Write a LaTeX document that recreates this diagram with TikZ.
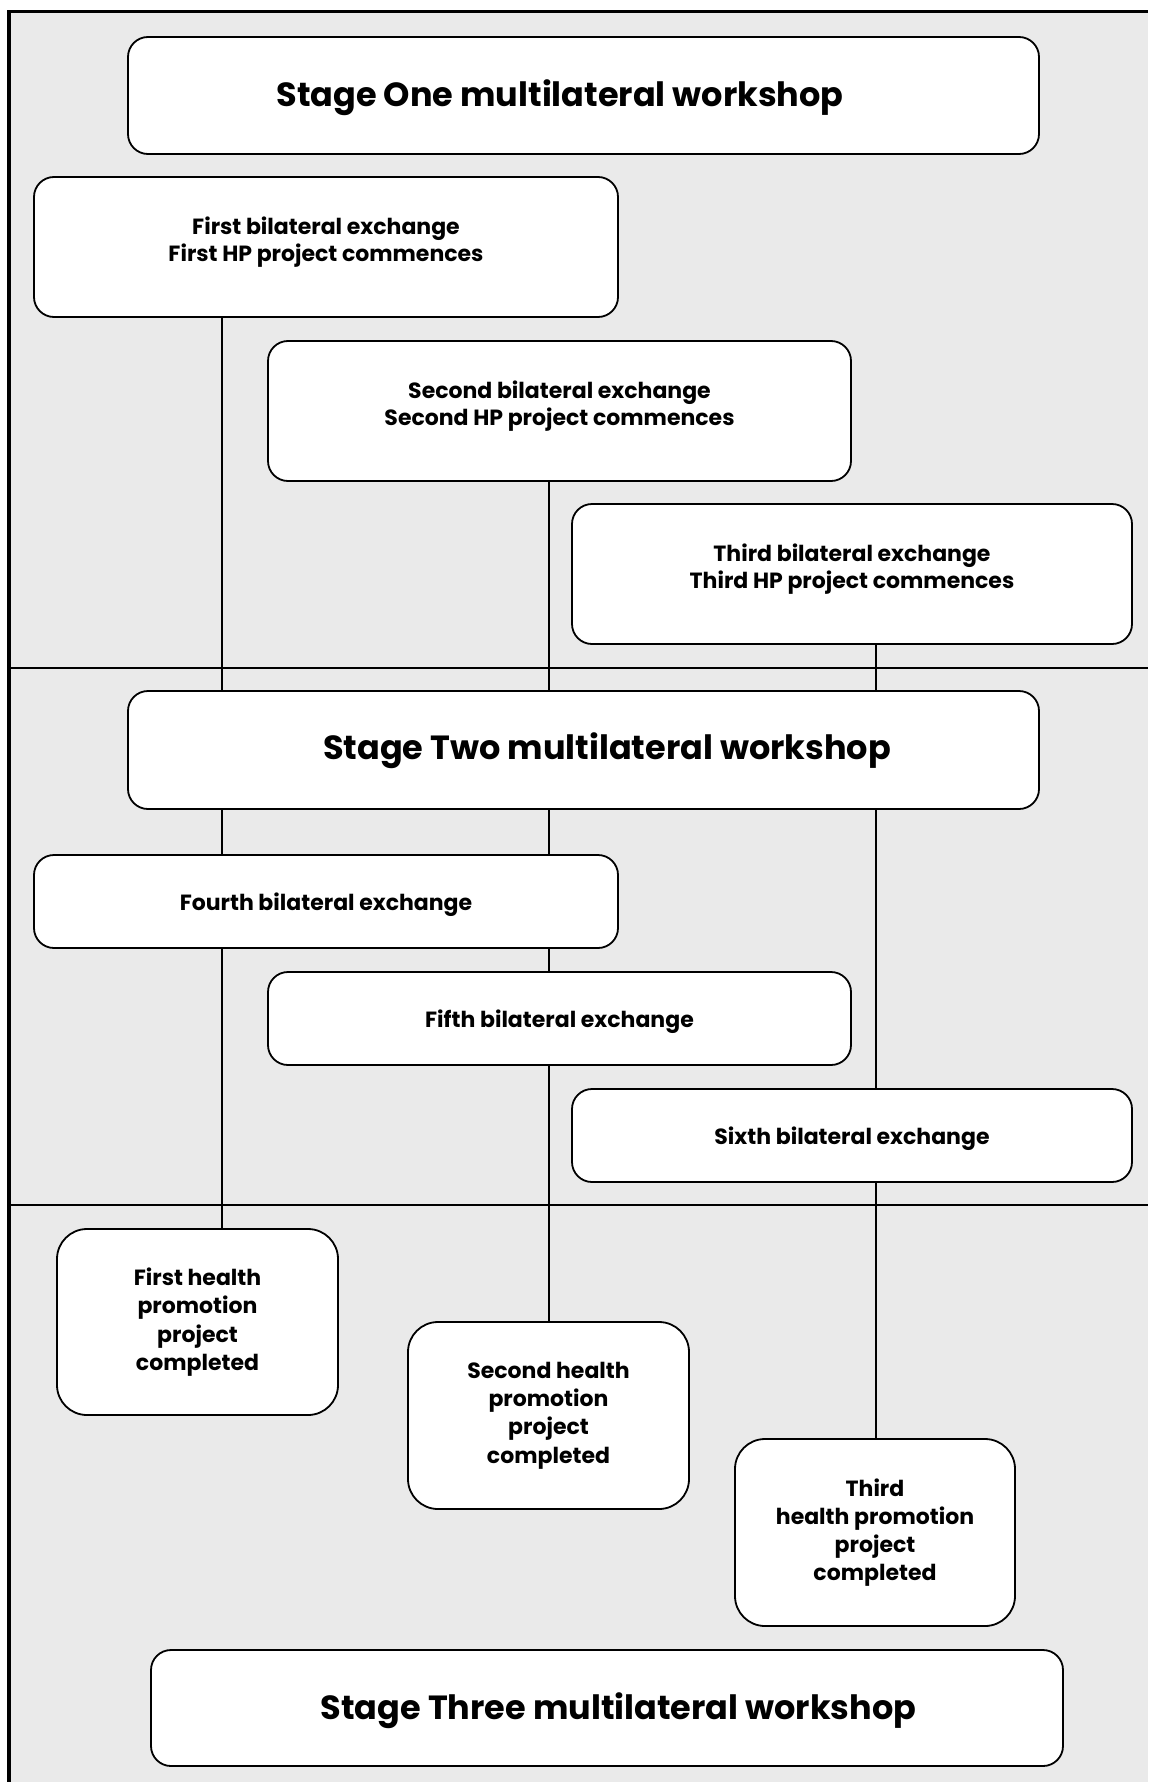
\documentclass[tikz,border=0pt]{standalone}
\usepackage{fontspec}
\setmainfont{Poppins}
\usetikzlibrary{positioning,backgrounds}
\definecolor{panelgray}{RGB}{234,234,234}

\tikzset{
  box/.style={draw, line width=1.8pt, fill=white, rounded corners=20pt,
    align=center, font=\bfseries\fontsize{22}{27}\selectfont},
  stagebox/.style={box, minimum width=911pt, minimum height=117pt},
  exbox/.style={box, minimum width=584pt, text depth=16pt},
  onebox/.style={box, minimum width=584pt, minimum height=93pt, text depth=-6pt},
  hpbox/.style={box, rounded corners=30pt, minimum width=281pt,
    minimum height=187pt, font=\bfseries\fontsize{22}{28.2}\selectfont},
  stagetitle/.style={font=\bfseries\fontsize{33.5}{40}\selectfont},
  lane/.style={line width=1.6pt},
  divider/.style={line width=1.8pt}
}

\begin{document}
\begin{tikzpicture}[x=1pt,y=-1pt]
    \useasboundingbox (0,0) rectangle (1148,1782);
    % Lanes of the three projects
    \coordinate (l1) at (222,0);
    \coordinate (l2) at (549,0);
    \coordinate (l3) at (876,0);
    % Stage One
    \node[stagebox] (s1) at (583.5,95.5) {};
    \node[stagetitle] (t1) at ([xshift=-23.5pt,yshift=-2pt]s1.center) {Stage One multilateral workshop};
    \node[exbox, minimum height=140pt] (b1) at (326,247)
      {First bilateral exchange\\First HP project commences};
    \node[exbox, minimum height=140pt, minimum width=583pt] (b2) at (559.5,411)
      {Second bilateral exchange\\Second HP project commences};
    \node[exbox, minimum height=140pt, minimum width=560pt] (b3) at (852,574)
      {Third bilateral exchange\\Third HP project commences};
    % Stage Two
    \node[stagebox, minimum height=118pt] (s2) at (583.5,750) {};
    \node[stagetitle] (t2) at ([xshift=23.5pt,yshift=-1pt]s2.center) {Stage Two multilateral workshop};
    \node[onebox] (b4) at (326,901.5) {Fourth bilateral exchange};
    \node[onebox, minimum width=583pt] (b5) at (559.5,1018.5) {Fifth bilateral exchange};
    \node[onebox, minimum width=560pt] (b6) at (852,1135.5) {Sixth bilateral exchange};
    % Projects completed
    \node[hpbox, minimum height=186pt] (h1) at (197.5,1322)
      {First health\\promotion\\project\\completed};
    \node[hpbox] (h2) at (548.5,1415.5)
      {Second health\\promotion\\project\\completed};
    \node[hpbox, minimum width=280pt] (h3) at (875,1532.5)
      {Third\\health promotion\\project\\completed};
    % Stage Three
    \node[stagebox, minimum width=912pt, minimum height=116pt] (s3) at (607,1708) {};
    \node[stagetitle] (t3) at ([xshift=11.5pt,yshift=-3pt]s3.center) {Stage Three multilateral workshop};
    % Panel, dividers and lanes
    \begin{scope}[on background layer]
      \fill[panelgray] (9,11.5) rectangle (1148,1782);
      \draw[divider] (9,668) -- (1148,668);
      \draw[divider] (9,1205) -- (1148,1205);
      \draw[lane] (b1.south -| l1) -- (h1.north -| l1);
      \draw[lane] (b2.south -| l2) -- (h2.north -| l2);
      \draw[lane] (b3.south -| l3) -- (h3.north -| l3);
    \end{scope}
    \draw[line width=3.3pt] (9,1782) -- (9,11.5) -- (1148,11.5);
\end{tikzpicture}
\end{document}
